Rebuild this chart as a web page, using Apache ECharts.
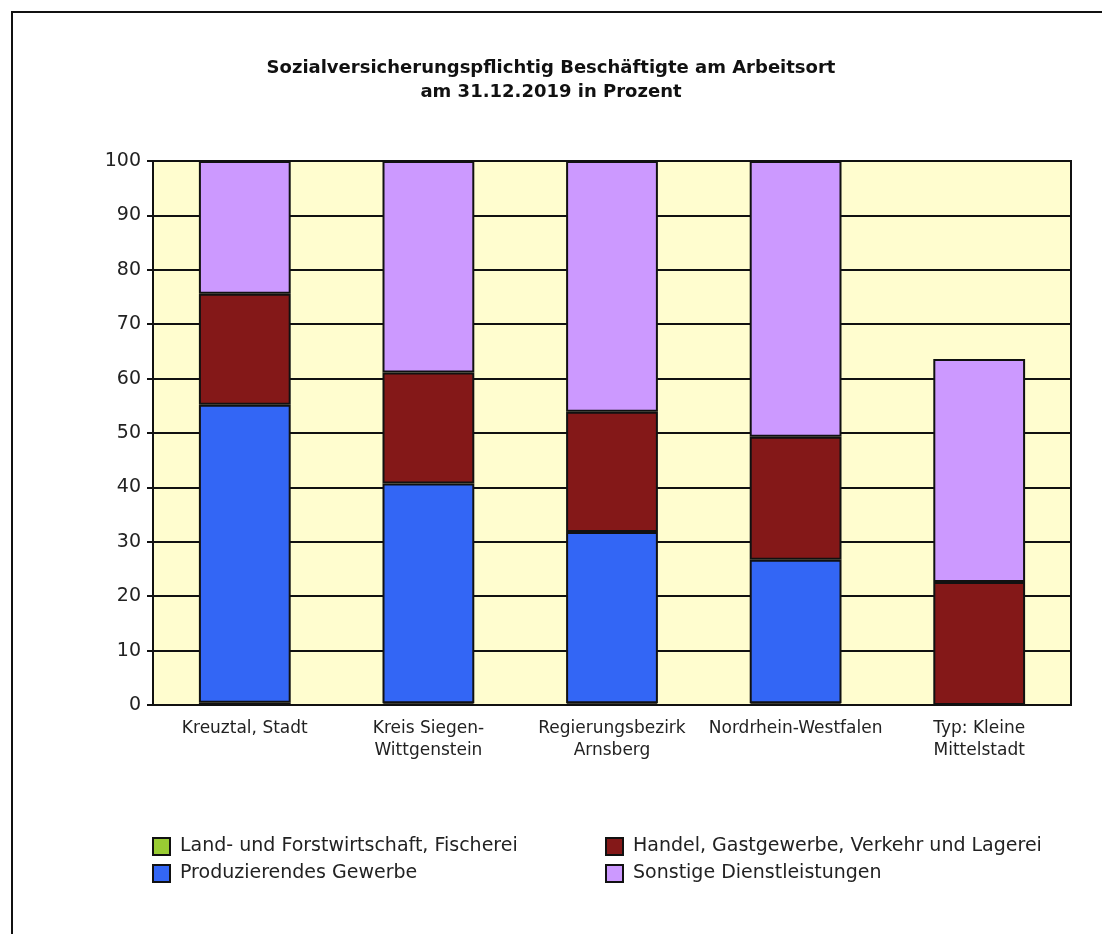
<!DOCTYPE html>
<html>
<head>
<meta charset="utf-8">
<script src="https://cdn.jsdelivr.net/npm/echarts@6/dist/echarts.min.js"></script>
<style>
html,body{margin:0;padding:0;background:#fff;}
#frame{position:absolute;left:11px;top:11px;width:1200px;height:1000px;border-left:2px solid #111;border-top:2px solid #111;}
#chart{position:absolute;left:0;top:0;width:1102px;height:934px;}
</style>
</head>
<body>
<div id="frame"></div>
<div id="chart"></div>
<script>
const categories = ["Kreuztal, Stadt", "Kreis Siegen-\nWittgenstein", "Regierungsbezirk\nArnsberg", "Nordrhein-Westfalen", "Typ: Kleine\nMittelstadt"];
const seriesNames = ["Land- und Forstwirtschaft, Fischerei", "Produzierendes Gewerbe", "Handel, Gastgewerbe, Verkehr und Lagerei", "Sonstige Dienstleistungen"];
const landForst = [0.4, 0.3, 0.3, 0.3, null];
const produzierend = [54.8, 40.4, 31.5, 26.4, null];
const handel = [20.4, 20.4, 22.1, 22.6, 22.6];
const sonstige = [24.4, 38.9, 46.1, 50.7, 41.0];
const yTicks = [0, 10, 20, 30, 40, 50, 60, 70, 80, 90, 100];
const colors = ["#99CC33", "#3366F5", "#841818", "#CC99FF"];

const chart = echarts.init(document.getElementById('chart'));
const values = [landForst, produzierend, handel, sonstige];
const font = "'DejaVu Sans', 'Liberation Sans', sans-serif";
chart.setOption({
  animation: false,
  title: {
    text: "Sozialversicherungspflichtig Beschäftigte am Arbeitsort\nam 31.12.2019 in Prozent",
    left: 546, textAlign: 'center', top: 51,
    textStyle: {fontFamily: font, fontSize: 18, fontWeight: 'bold', color: '#111', lineHeight: 24}
  },
  grid: {left: 153, right: 31, top: 161, bottom: 229, show: true, backgroundColor: '#FFFDCF', borderColor: '#111', borderWidth: 2},
  legend: [
    {data: seriesNames.slice(0, 2), left: 147, top: 832, orient: 'vertical', itemGap: 8, itemWidth: 17, itemHeight: 17, icon: 'rect',
     textStyle: {fontFamily: font, fontSize: 19, color: '#222', padding: [0, 0, 0, 5]}},
    {data: seriesNames.slice(2, 4), left: 600, top: 832, orient: 'vertical', itemGap: 8, itemWidth: 17, itemHeight: 17, icon: 'rect',
     textStyle: {fontFamily: font, fontSize: 19, color: '#222', padding: [0, 0, 0, 5]}}
  ],
  xAxis: {
    type: 'category', data: categories,
    axisLine: {lineStyle: {color: '#111', width: 2}},
    axisTick: {show: false},
    axisLabel: {fontFamily: font, fontSize: 17, color: '#222', margin: 13, lineHeight: 22, interval: 0}
  },
  yAxis: {
    type: 'value', min: 0, max: 100, interval: 10,
    axisLine: {show: true, lineStyle: {color: '#111', width: 2}},
    axisTick: {show: true, length: 6, lineStyle: {color: '#111', width: 2}},
    axisLabel: {fontFamily: font, fontSize: 19, color: '#222', margin: 12, formatter: v => yTicks.includes(v) ? String(v) : ''},
    splitLine: {show: true, lineStyle: {color: '#111', width: 2}}
  },
  series: seriesNames.map((name, i) => ({
    name: name, type: 'bar', stack: 'total', data: values[i], barWidth: '50%',
    itemStyle: {color: colors[i], borderColor: '#111', borderWidth: 2}
  }))
});
</script>
</body>
</html>
